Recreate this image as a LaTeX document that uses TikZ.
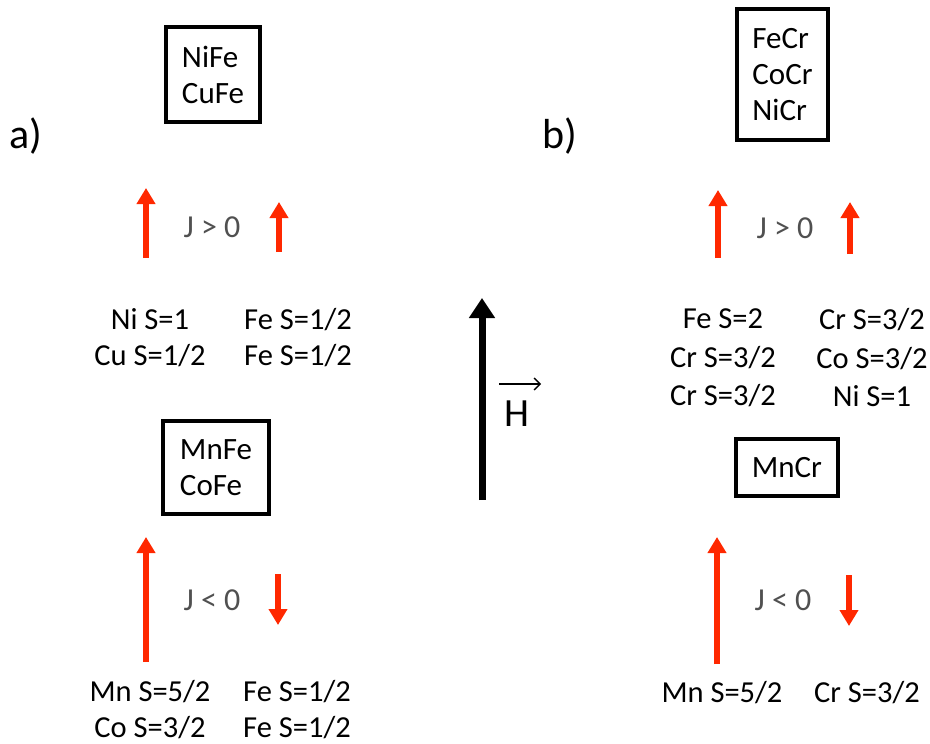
\documentclass[tikz,border=0pt]{standalone}
\usepackage{fontspec}
\setmainfont{Carlito}
\usetikzlibrary{arrows.meta}
\definecolor{spinred}{RGB}{255,40,0}
\definecolor{jgray}{RGB}{80,80,80}
\begin{document}
\begin{tikzpicture}[x=1pt,y=-1pt,
  lbl/.style={font=\fontsize{30.5}{36}\selectfont, align=center, inner sep=0pt},
  jlbl/.style={font=\fontsize{32}{36}\selectfont, text=jgray, inner sep=0pt},
  big/.style={font=\fontsize{42}{48}\selectfont, inner sep=0pt},
  alloy/.style={draw, line width=4.5pt, align=left, inner sep=0pt,
    font=\fontsize{31}{36}\selectfont},
  spin/.style={draw=spinred, line width=6.5pt,
    -{Triangle[length=16pt,width=18pt]}},
  field/.style={draw=black, line width=7pt,
    -{Triangle[length=20pt,width=25pt]}}]
\useasboundingbox (0,0) rectangle (930,744);

% panel labels
\node[big] (pa) at (26,136) {a)};
\node[big] (pb) at (560,136) {b)};

% alloy boxes
\node[alloy, minimum width=94pt, minimum height=95pt] (nife) at (213,74.5) {NiFe\\CuFe};
\node[alloy, minimum width=106pt, minimum height=93pt] (mnfe) at (216,467.5) {MnFe\\CoFe};
\node[alloy, minimum width=91pt, minimum height=131pt] (fecr) at (782.5,74.5) {FeCr\\CoCr\\NiCr};
\node[alloy, minimum width=102pt, minimum height=57pt] (mncr) at (787,467.5) {MnCr};

% J labels
\node[jlbl] (j1) at (212,227) {J > 0};
\node[jlbl] (j2) at (212,600) {J < 0};
\node[jlbl] (j3) at (785,228) {J > 0};
\node[jlbl] (j4) at (783,600) {J < 0};

% spin labels
\node[lbl] (l1) at (150,338) {Ni S=1\\Cu S=1/2};
\node[lbl] (l2) at (298,338) {Fe S=1/2\\Fe S=1/2};
\node[lbl] (l3) at (150,710) {Mn S=5/2\\Co S=3/2};
\node[lbl] (l4) at (297,710) {Fe S=1/2\\Fe S=1/2};
\node[lbl, font=\fontsize{30.5}{38.5}\selectfont] (r1) at (723,358) {Fe S=2\\Cr S=3/2\\Cr S=3/2};
\node[lbl, font=\fontsize{30.5}{38.5}\selectfont] (r2) at (872,358) {Cr S=3/2\\Co S=3/2\\Ni S=1};
\node[lbl] (r3) at (722,693) {Mn S=5/2};
\node[lbl] (r4) at (867,693) {Cr S=3/2};

% spin arrows
\coordinate (a1s) at (146,258); \coordinate (a1e) at (146,188);
\coordinate (a2s) at (279,252); \coordinate (a2e) at (279,202);
\coordinate (a3s) at (146,662); \coordinate (a3e) at (146,537);
\coordinate (a4s) at (278,574); \coordinate (a4e) at (278,625);
\coordinate (a5s) at (718,258); \coordinate (a5e) at (718,190);
\coordinate (a6s) at (850,254); \coordinate (a6e) at (850,202);
\coordinate (a7s) at (717,664); \coordinate (a7e) at (717,537);
\coordinate (a8s) at (849,575); \coordinate (a8e) at (849,626);
\draw[spin] (a1s) -- (a1e);
\draw[spin] (a2s) -- (a2e);
\draw[spin] (a3s) -- (a3e);
\draw[spin] (a4s) -- (a4e);
\draw[spin] (a5s) -- (a5e);
\draw[spin] (a6s) -- (a6e);
\draw[spin] (a7s) -- (a7e);
\draw[spin] (a8s) -- (a8e);

% field arrow
\coordinate (hs) at (482,500); \coordinate (he) at (482,298);
\draw[field] (hs) -- (he);
\node[font=\fontsize{40}{48}\selectfont, inner sep=0pt] (hlab) at (517,414) {H};
\coordinate (hv1) at (499,384); \coordinate (hv2) at (541,384);
\draw[line width=1.3pt, -{Straight Barb[length=6pt,width=12pt]}] (hv1) -- (hv2);
\end{tikzpicture}
\end{document}
